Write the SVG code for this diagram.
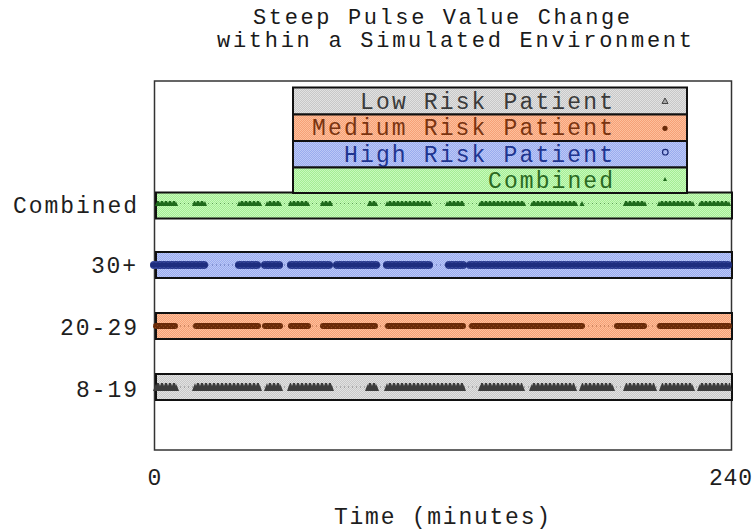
<svg xmlns="http://www.w3.org/2000/svg" width="753" height="531" viewBox="0 0 753 531">
<style>
  text { font-family: "Liberation Mono", "Courier New", monospace; font-size: 23px; }
  .lbl { fill: #1e1e1e; }
  .ttl { fill: #1a1a1a; font-size: 22px; }
  .band { stroke: #111111; stroke-width: 2; }
  .frame { fill: none; stroke: #333333; stroke-width: 1.5; }
  .dots { stroke-width: 0.8; stroke-dasharray: 1 3; opacity: 0.7; }
</style>
<defs>
  <pattern id="fGray" width="2" height="2" patternUnits="userSpaceOnUse">
    <rect width="2" height="2" fill="#c8c8c8"/>
    <rect width="1" height="1" fill="#e2e2e2"/>
    <rect x="1" y="1" width="1" height="1" fill="#e2e2e2"/>
  </pattern>
  <pattern id="fOrange" width="2" height="2" patternUnits="userSpaceOnUse">
    <rect width="2" height="2" fill="#f6a077"/>
    <rect width="1" height="1" fill="#fdc09c"/>
    <rect x="1" y="1" width="1" height="1" fill="#fdc09c"/>
  </pattern>
  <pattern id="fBlue" width="2" height="2" patternUnits="userSpaceOnUse">
    <rect width="2" height="2" fill="#9aacef"/>
    <rect width="1" height="1" fill="#bcc8f6"/>
    <rect x="1" y="1" width="1" height="1" fill="#bcc8f6"/>
  </pattern>
  <pattern id="fGreen" width="2" height="2" patternUnits="userSpaceOnUse">
    <rect width="2" height="2" fill="#a4ee94"/>
    <rect width="1" height="1" fill="#c8f9bc"/>
    <rect x="1" y="1" width="1" height="1" fill="#c8f9bc"/>
  </pattern>
  <pattern id="mGray" width="4" height="8" patternUnits="userSpaceOnUse">
    <path d="M0 8 L0 3 L1 0 L3 0 L4 3 L4 8Z" fill="#3d3d3d"/>
  </pattern>
  <pattern id="mGreen" width="4" height="5" patternUnits="userSpaceOnUse">
    <path d="M0 5 L0 2 L1 0 L3 0 L4 2 L4 5Z" fill="#1f6a1c"/>
  </pattern>
  <pattern id="mBlue" width="4" height="8" patternUnits="userSpaceOnUse">
    <rect width="4" height="8" fill="#1d2d7e"/>
    <circle cx="2" cy="4" r="3.4" fill="none" stroke="#5062b4" stroke-width="0.7"/>
  </pattern>
  <pattern id="mOrange" width="4" height="6" patternUnits="userSpaceOnUse">
    <rect width="4" height="6" fill="#6a2a08"/>
    <rect x="1" y="2" width="1" height="1" fill="#8a4418"/>
    <rect x="3" y="4" width="1" height="1" fill="#8a4418"/>
  </pattern>
</defs>

<g id="title">
  <text class="ttl" x="253" y="24" textLength="377" lengthAdjust="spacing">Steep Pulse Value Change</text>
  <text class="ttl" x="217" y="47" textLength="475" lengthAdjust="spacing">within a Simulated Environment</text>
</g>

<g id="axes">
  <rect class="frame" x="154.5" y="81" width="577" height="369"/>
  <text class="lbl" x="147.5" y="485">0</text>
  <text class="lbl" x="709" y="485" textLength="43" lengthAdjust="spacing">240</text>
  <text class="lbl" x="334" y="524" textLength="216" lengthAdjust="spacing">Time (minutes)</text>
</g>

<g id="row-combined">
  <text class="lbl" x="13" y="213" textLength="124" lengthAdjust="spacing">Combined</text>
  <rect class="band" x="156" y="192.5" width="576" height="26" fill="url(#fGreen)"/>
  <line class="dots" x1="156" y1="203.5" x2="732" y2="203.5" stroke="#1f6a1c"/>
  <g transform="translate(0,201)" fill="url(#mGreen)">
    <path d="M155 5 L157 0 L176 0 L178 5Z"/>
    <path d="M192 5 L194 0 L205 0 L207 5Z"/>
    <path d="M237 5 L239 0 L260 0 L262 5Z"/>
    <path d="M265 5 L267 0 L280 0 L282 5Z"/>
    <path d="M288 5 L290 0 L308 0 L310 5Z"/>
    <path d="M320 5 L322 0 L331 0 L333 5Z"/>
    <path d="M367 5 L369 0 L376 0 L378 5Z"/>
    <path d="M385 5 L387 0 L430 0 L432 5Z"/>
    <path d="M445 5 L447 0 L463 0 L465 5Z"/>
    <path d="M478 5 L480 0 L524 0 L526 5Z"/>
    <path d="M530 5 L532 0 L576 0 L578 5Z"/>
    <path d="M579.5 5 L582 0 L584.5 5Z" fill="#1f6a1c"/>
    <path d="M623 5 L625 0 L645 0 L647 5Z"/>
    <path d="M657 5 L659 0 L693 0 L695 5Z"/>
    <path d="M698 5 L700 0 L729 0 L731 5Z"/>
  </g>
</g>

<g id="row-30plus">
  <text class="lbl" x="91" y="273" textLength="45" lengthAdjust="spacing">30+</text>
  <rect class="band" x="156" y="252" width="576" height="26" fill="url(#fBlue)"/>
  <line class="dots" x1="156" y1="265" x2="732" y2="265" stroke="#1b2a78"/>
  <g transform="translate(0,261)" fill="url(#mBlue)">
    <rect x="150" y="0" width="58" height="8" rx="4"/>
    <rect x="235" y="0" width="26" height="8" rx="4"/>
    <rect x="261" y="0" width="22" height="8" rx="4"/>
    <rect x="287" y="0" width="46" height="8" rx="4"/>
    <rect x="333" y="0" width="47" height="8" rx="4"/>
    <rect x="383" y="0" width="50" height="8" rx="4"/>
    <rect x="445" y="0" width="22" height="8" rx="4"/>
    <rect x="466" y="0" width="266" height="8" rx="4"/>
  </g>
</g>

<g id="row-20-29">
  <text class="lbl" x="60" y="335" textLength="77" lengthAdjust="spacing">20-29</text>
  <rect class="band" x="156" y="313" width="576" height="26" fill="url(#fOrange)"/>
  <line class="dots" x1="156" y1="326" x2="732" y2="326" stroke="#6a2a08"/>
  <g transform="translate(0,323)" fill="url(#mOrange)">
    <rect x="153" y="0" width="25" height="6" rx="3"/>
    <rect x="193" y="0" width="68" height="6" rx="3"/>
    <rect x="262" y="0" width="21" height="6" rx="3"/>
    <rect x="288" y="0" width="23" height="6" rx="3"/>
    <rect x="320" y="0" width="58" height="6" rx="3"/>
    <rect x="385" y="0" width="81" height="6" rx="3"/>
    <rect x="469" y="0" width="116" height="6" rx="3"/>
    <rect x="614" y="0" width="33" height="6" rx="3"/>
    <rect x="657" y="0" width="75" height="6" rx="3"/>
  </g>
</g>

<g id="row-8-19">
  <text class="lbl" x="76" y="397" textLength="61" lengthAdjust="spacing">8-19</text>
  <rect class="band" x="156" y="374" width="576" height="26" fill="url(#fGray)"/>
  <line class="dots" x1="156" y1="387" x2="732" y2="387" stroke="#3d3d3d"/>
  <g transform="translate(0,383)" fill="url(#mGray)">
    <path d="M153 8 L156 0 L176 0 L179 8Z"/>
    <path d="M192 8 L195 0 L259 0 L262 8Z"/>
    <path d="M264 8 L267 0 L280 0 L283 8Z"/>
    <path d="M287 8 L290 0 L331 0 L334 8Z"/>
    <path d="M365 8 L368 0 L376 0 L379 8Z"/>
    <path d="M384 8 L387 0 L463 0 L466 8Z"/>
    <path d="M478 8 L481 0 L522 0 L525 8Z"/>
    <path d="M529 8 L532 0 L574 0 L577 8Z"/>
    <path d="M579 8 L582 0 L612 0 L615 8Z"/>
    <path d="M623 8 L626 0 L654 0 L657 8Z"/>
    <path d="M659 8 L662 0 L692 0 L695 8Z"/>
    <path d="M697 8 L700 0 L730 0 L732 8Z"/>
  </g>
</g>

<g id="legend">
  <g id="legend-low">
    <rect class="band" x="293" y="87.5" width="394" height="27" fill="url(#fGray)"/>
    <text x="360" y="109" textLength="253" lengthAdjust="spacing" fill="#3a3a3a">Low Risk Patient</text>
    <path d="M662 103.5 L665 98 L668 103.5Z" fill="#a8a8a8" stroke="#444444" stroke-width="1"/>
  </g>
  <g id="legend-medium">
    <rect class="band" x="293" y="114.5" width="394" height="26.5" fill="url(#fOrange)"/>
    <text x="312" y="135" textLength="301" lengthAdjust="spacing" fill="#7a3410">Medium Risk Patient</text>
    <circle cx="665" cy="128.3" r="2.6" fill="#6a2a08"/>
  </g>
  <g id="legend-high">
    <rect class="band" x="293" y="141" width="394" height="26.5" fill="url(#fBlue)"/>
    <text x="344" y="161.5" textLength="269" lengthAdjust="spacing" fill="#1f3590">High Risk Patient</text>
    <circle cx="665.3" cy="152.2" r="2.8" fill="none" stroke="#1b2a78" stroke-width="1.2"/>
  </g>
  <g id="legend-combined">
    <rect class="band" x="293" y="167.5" width="394" height="25.5" fill="url(#fGreen)"/>
    <text x="488" y="188" textLength="125" lengthAdjust="spacing" fill="#2a6a22">Combined</text>
    <path d="M663 181 L665 177 L667 181Z" fill="#1f6a1c"/>
  </g>
</g>
</svg>
